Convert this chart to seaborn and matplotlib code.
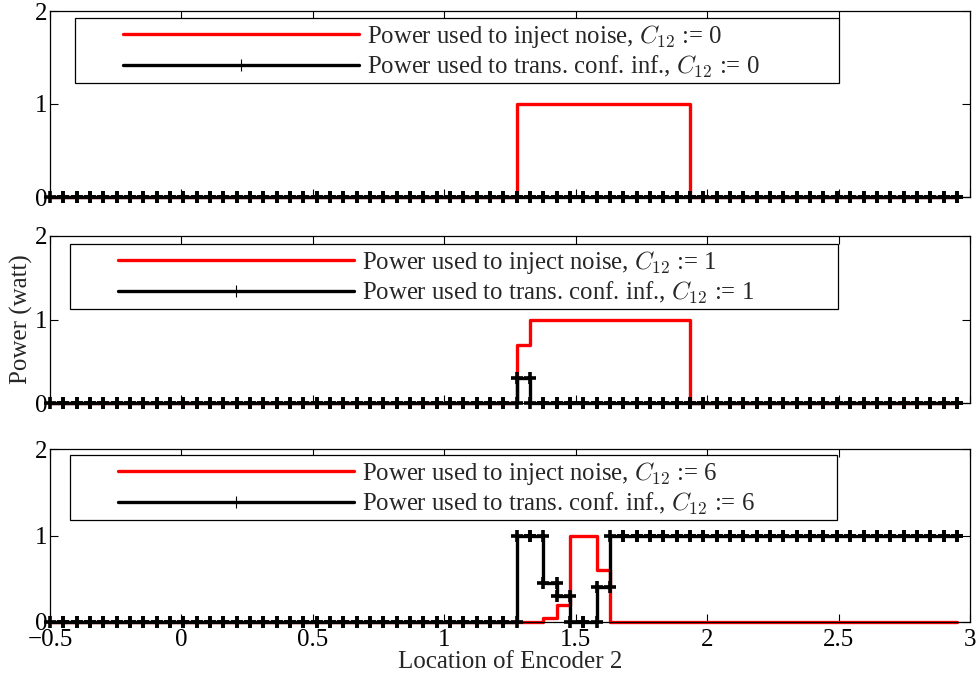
import numpy as np
import pandas as pd
import seaborn as sns
import matplotlib.pyplot as plt
from matplotlib.lines import Line2D
from matplotlib.patches import Rectangle

# sample locations of encoder 2 (uniform grid)
location = np.linspace(-0.5, 2.95, 69)

# power used to inject noise / transmit confidential info, per C12 value
noise_c0 = [0] * 35 + [1] * 13 + [0] * 21
conf_c0 = [0] * 69
noise_c1 = [0] * 35 + [0.7] + [1] * 12 + [0] * 21
conf_c1 = [0] * 35 + [0.3] + [0] * 33
noise_c6 = [0] * 37 + [0.05, 0.2, 1, 1, 0.6] + [0] * 27
conf_c6 = [0] * 35 + [1, 1, 0.45, 0.3, 0, 0, 0.4] + [1] * 27

c12_labels = ['0', '1', '6']
xtick_vals = [-0.5, 0, 0.5, 1, 1.5, 2, 2.5, 3]
xtick_labels = ['\u22120.5', '0', '0.5', '1', '1.5', '2', '2.5', '3']
ytick_vals = [0, 1, 2]

sns.set_style('ticks')
plt.rcParams['font.family'] = ['Liberation Serif', 'DejaVu Serif']
plt.rcParams['mathtext.fontset'] = 'cm'

W, H = 976, 676
FS = 17.8
TICK_FS = 18
fs_px = FS * 100 / 72


def stairs(x, y):
    # vertices of a MATLAB-style stair line
    x = np.asarray(x, float)
    y = np.asarray(y, float)
    return np.repeat(x, 2)[1:], np.repeat(y, 2)[:-1]


def px_box(left, top, right, bottom):
    return [left / W, 1 - bottom / H, (right - left) / W, (bottom - top) / H]


fig = plt.figure(figsize=(W / 100, H / 100), dpi=100)

# (noise, conf, label, axes top/bottom px, legend frame px, legend line x px, legend top px)
panels = [
    (noise_c0, conf_c0, c12_labels[0], (11, 197), (75, 18, 839, 83), 123, 23),
    (noise_c1, conf_c1, c12_labels[1], (236, 403), (70, 244, 838, 309), 118, 249),
    (noise_c6, conf_c6, c12_labels[2], (449, 622), (70, 455, 837, 520), 118, 460),
]

axes = []
for i, (noise, conf, c12, (top, bot), frame, line_x, leg_top) in enumerate(panels):
    ax = fig.add_axes(px_box(50, top, 970, bot))
    xx, yn = stairs(location, noise)
    _, yc = stairs(location, conf)
    df = pd.DataFrame({'x': xx, 'noise': yn, 'conf': yc})
    sns.lineplot(data=df, x='x', y='noise', ax=ax, estimator=None, sort=False,
                 color='red', lw=2.4, zorder=2, clip_on=False)
    sns.lineplot(data=df, x='x', y='conf', ax=ax, estimator=None, sort=False,
                 color='black', lw=2.4, marker='+', ms=9, mew=2.6, mec='black',
                 zorder=3, clip_on=False)

    ax.set_xlim(-0.5, 3)
    ax.set_ylim(0, 2)
    ax.set_xticks(xtick_vals)
    ax.set_yticks(ytick_vals)
    ax.set_yticklabels([str(v) for v in ytick_vals])
    if i < 2:
        ax.set_xticklabels([])
    else:
        ax.set_xticklabels(xtick_labels)
    ax.set_xlabel('')
    ax.set_ylabel('')
    ax.tick_params(direction='in', top=True, right=True, length=6, width=0.8,
                   labelsize=TICK_FS, colors='black')
    ax.tick_params(axis='x', pad=5)
    ax.tick_params(axis='y', pad=2)
    for s in ax.spines.values():
        s.set_color('black')
        s.set_linewidth(0.9)

    l, t, r, b = frame
    ax.add_patch(Rectangle((l / W, 1 - b / H), (r - l) / W, (b - t) / H,
                           transform=fig.transFigure, facecolor='white',
                           edgecolor='black', lw=0.9, zorder=4, clip_on=False))
    handles = [Line2D([], [], color='red', lw=2.4),
               Line2D([], [], color='black', lw=2.4, marker='+', ms=9, mew=0.8)]
    labels = [f'Power used to inject noise, $C_{{12}}$ := {c12}',
              f'Power used to trans. conf. inf., $C_{{12}}$ := {c12}']
    leg = ax.legend(handles, labels, loc='upper left',
                    bbox_to_anchor=(line_x / W, 1 - leg_top / H),
                    bbox_transform=fig.transFigure, frameon=False,
                    borderpad=0, borderaxespad=0, numpoints=1,
                    handlelength=236 / fs_px, handletextpad=8 / fs_px,
                    labelspacing=0.16, fontsize=FS)
    leg.set_zorder(5)
    axes.append(ax)

axes[1].set_ylabel('Power (watt)', fontsize=TICK_FS, labelpad=1)
axes[2].set_xlabel('Location of Encoder 2', fontsize=TICK_FS, labelpad=0)

fig.savefig('out.png', dpi=100)
